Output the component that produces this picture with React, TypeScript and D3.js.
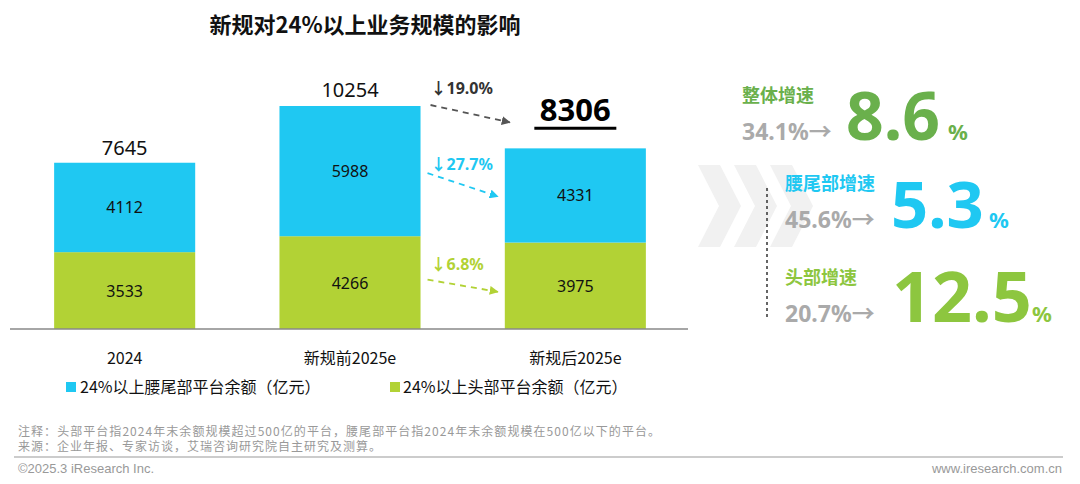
import React from "react";
import * as d3 from "d3";

const categories = ["2024", "新规前2025e", "新规后2025e"];
const tailValues = [4112, 5988, 4331];
const headValues = [3533, 4266, 3975];
const totals = [7645, 10254, 8306];
const seriesNames = ["24%以上腰尾部平台余额（亿元）", "24%以上头部平台余额（亿元）"];
const dropLabels = ["↓19.0%", "↓27.7%", "↓6.8%"];
const speedTitles = ["整体增速", "腰尾部增速", "头部增速"];
const speedBefore = ["34.1%→", "45.6%→", "20.7%→"];
const speedAfter = ["8.6", "5.3", "12.5"];

const BLUE = "#1fc8f2";
const GREEN = "#b2d235";
const FONT = "'Noto Sans', 'Noto Sans CJK SC', sans-serif";
const CJK = "'Noto Sans CJK SC', 'Noto Sans', sans-serif";

export default function App() {
  const W = 1080, H = 484;
  const x = d3.scaleBand<string>().domain(categories).range([12, 688]).paddingInner(0.374).paddingOuter(0.187);
  const y = d3.scaleLinear().domain([0, 10254]).range([329, 106]);
  const bw = x.bandwidth();
  const cx = (i: number) => (x(categories[i]) as number) + bw / 2;

  const b2r = (x(categories[1]) as number) + bw;
  const b3l = x(categories[2]) as number;

  const arrows = [
    { color: "#555", x1: b2r + 10, y1: y(totals[1]) - 1, x2: b3l + 5, y2: y(totals[2]) - 26, lx: b2r + 10, ly: 94 },
    { color: BLUE, x1: b2r + 7, y1: (y(totals[1]) + y(headValues[1])) / 2 + 2, x2: b3l - 7, y2: (y(totals[2]) + y(headValues[2])) / 2 + 1, lx: b2r + 10, ly: 170 },
    { color: GREEN, x1: b2r + 7, y1: (y(0) + y(headValues[1])) / 2 - 3, x2: b3l - 7, y2: (y(0) + y(headValues[2])) / 2 + 6, lx: b2r + 10, ly: 270 },
  ];
  const labelColors = ["#333", BLUE, GREEN];

  const speedColors = ["#6ab04c", BLUE, "#8dc63f"];
  const panel = [
    { tx: 742, ty: 102, bx: 742, by: 140, nx: 846, ns: 66, px: 948 },
    { tx: 785, ty: 190, bx: 785, by: 228, nx: 891, ns: 65, px: 989 },
    { tx: 785, ty: 284, bx: 785, by: 322, nx: 892, ns: 70, px: 1032 },
  ];

  const chevron = (x0: number) => {
    const top = 165, bot = 247, mid = 206, w = 22, d = 21;
    return `M${x0},${top} L${x0 + w},${top} L${x0 + w + d},${mid} L${x0 + w},${bot} L${x0},${bot} L${x0 + d},${mid} Z`;
  };

  return (
    <svg width={W} height={H} style={{ position: "absolute", left: 0, top: 0, background: "#fff" }}>
      <defs>
        {["#555", BLUE, GREEN].map((c, i) => (
          <marker key={i} id={`ah${i}`} viewBox="0 0 10 10" refX="9" refY="5" markerWidth="5" markerHeight="5" orient="auto">
            <path d="M0,0 L10,5 L0,10 Z" fill={c} />
          </marker>
        ))}
      </defs>
      <text x={365} y={33} textAnchor="middle" fontFamily={CJK} fontWeight="bold" fontSize={22} fill="#111">新规对24%以上业务规模的影响</text>

      {categories.map((c, i) => (
        <g key={c}>
          <rect x={x(c)} y={y(headValues[i])} width={bw} height={y(0) - y(headValues[i])} fill={GREEN} />
          <rect x={x(c)} y={y(headValues[i] + tailValues[i])} width={bw} height={y(headValues[i]) - y(headValues[i] + tailValues[i])} fill={BLUE} />
          <text x={cx(i)} y={(y(0) + y(headValues[i])) / 2 + 6} textAnchor="middle" fontFamily={FONT} fontSize={16} fill="#111">{headValues[i]}</text>
          <text x={cx(i)} y={(y(headValues[i]) + y(headValues[i] + tailValues[i])) / 2 + 6} textAnchor="middle" fontFamily={FONT} fontSize={16} fill="#111">{tailValues[i]}</text>
          <text x={cx(i)} y={364} textAnchor="middle" fontFamily={CJK} fontSize={16} fill="#111">{c}</text>
        </g>
      ))}
      <text x={cx(0)} y={y(totals[0]) - 8} textAnchor="middle" fontFamily={FONT} fontSize={20} fill="#111">{totals[0]}</text>
      <text x={cx(1)} y={y(totals[1]) - 9} textAnchor="middle" fontFamily={FONT} fontSize={20} fill="#111">{totals[1]}</text>
      <text x={cx(2)} y={y(totals[2]) - 27} textAnchor="middle" fontFamily={FONT} fontWeight="bold" fontSize={31} fill="#000">{totals[2]}</text>
      <line x1={cx(2) - 41} x2={cx(2) + 41} y1={y(totals[2]) - 20} y2={y(totals[2]) - 20} stroke="#000" strokeWidth={3} />
      <line x1={10} x2={688} y1={y(0)} y2={y(0)} stroke="#888" strokeWidth={1.5} />

      {arrows.map((a, i) => (
        <g key={i}>
          <line x1={a.x1} y1={a.y1} x2={a.x2} y2={a.y2} stroke={a.color} strokeWidth={1.8} strokeDasharray="6,5" markerEnd={`url(#ah${i})`} />
          <text x={a.lx} y={a.ly} fontFamily={FONT} fontWeight="bold" fontSize={16} fill={labelColors[i]}>{dropLabels[i]}</text>
        </g>
      ))}

      {/* legend */}
      <rect x={66} y={382} width={10} height={10} fill={BLUE} />
      <text x={80} y={393} fontFamily={CJK} fontSize={16} fill="#111">{seriesNames[0]}</text>
      <rect x={390} y={382} width={10} height={10} fill={GREEN} />
      <text x={403} y={393} fontFamily={CJK} fontSize={16} fill="#111">{seriesNames[1]}</text>

      {/* right panel */}
      {[0, 36, 72].map((o) => (
        <path key={o} d={chevron(698 + o)} fill="#f1f1f1" />
      ))}
      <line x1={767} x2={767} y1={188} y2={320} stroke="#333" strokeWidth={1.5} strokeDasharray="3,3" />
      {panel.map((p, i) => (
        <g key={i}>
          <text x={p.tx} y={p.ty} fontFamily={CJK} fontWeight="bold" fontSize={18} fill={speedColors[i]}>{speedTitles[i]}</text>
          <text x={p.bx} y={p.by} fontFamily={FONT} fontWeight="bold" fontSize={23} fill="#aaa">{speedBefore[i]}</text>
          <text x={p.nx} y={p.by} fontFamily={FONT} fontWeight="bold" fontSize={p.ns} fill={speedColors[i]}>{speedAfter[i]}</text>
          <text x={p.px} y={p.by} fontFamily={FONT} fontWeight="bold" fontSize={22} fill={speedColors[i]}>%</text>
        </g>
      ))}

      {/* footer */}
      <text x={18} y={436} fontFamily={CJK} fontSize={12} fill="#999" textLength={642} lengthAdjust="spacing">注释：头部平台指2024年末余额规模超过500亿的平台，腰尾部平台指2024年末余额规模在500亿以下的平台。</text>
      <text x={18} y={451} fontFamily={CJK} fontSize={12} fill="#999" textLength={363} lengthAdjust="spacing">来源：企业年报、专家访谈，艾瑞咨询研究院自主研究及测算。</text>
      <line x1={14} x2={1063} y1={457} y2={457} stroke="#bbb" strokeWidth={1.5} />
      <text x={18} y={473} fontFamily="'Liberation Sans', Arial, sans-serif" fontSize={13} fill="#999">©2025.3 iResearch Inc.</text>
      <text x={1062} y={473} textAnchor="end" fontFamily="'Liberation Sans', Arial, sans-serif" fontSize={13} fill="#999">www.iresearch.com.cn</text>
    </svg>
  );
}
